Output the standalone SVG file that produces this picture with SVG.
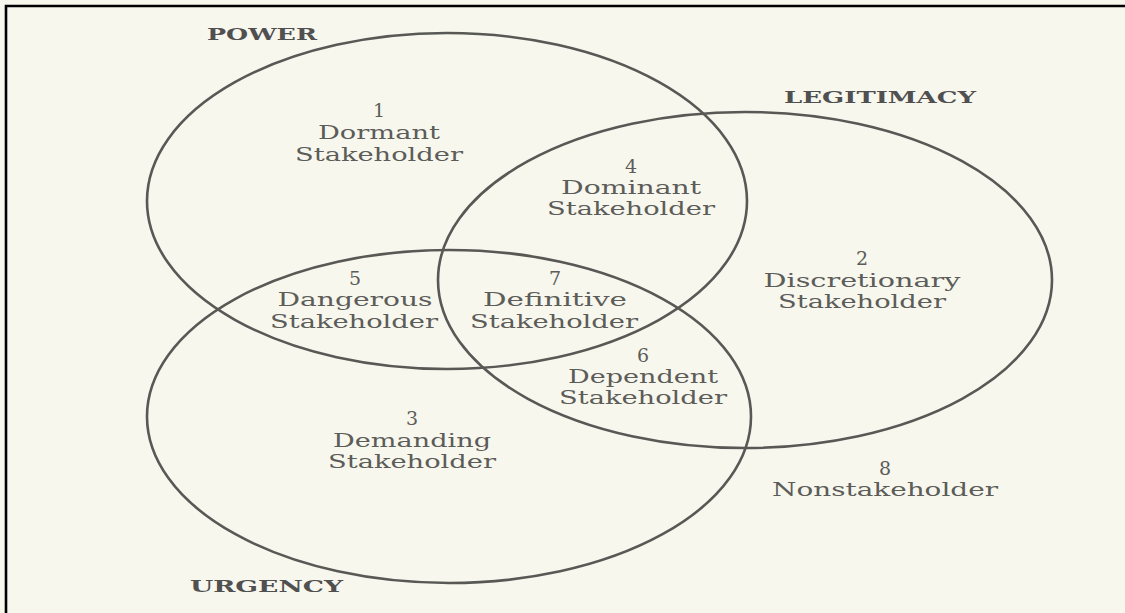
<svg xmlns="http://www.w3.org/2000/svg" width="1125" height="613" viewBox="0 0 1125 613">
<style>
.bg{fill:#f7f7ee}
.c{fill:none;stroke:#585855;stroke-width:2.6}
.h{font-family:"DejaVu Serif","Liberation Serif",serif;font-weight:bold;font-size:17px;fill:#505050}
.t{font-family:"DejaVu Serif","Liberation Serif",serif;font-size:19px;fill:#5c5c58;text-anchor:middle}
.frame{stroke:#000;stroke-width:2.6;fill:none}
</style>
<rect class="bg" x="0" y="0" width="1125" height="613"/>
<path class="frame" d="M6,613 V6 H1125"/>
<g id="circles">
<ellipse id="power" class="c" cx="447" cy="201" rx="300" ry="168"/>
<ellipse id="legitimacy" class="c" cx="745" cy="280" rx="307" ry="168"/>
<ellipse id="urgency" class="c" cx="449" cy="416.5" rx="302" ry="166.5"/>
</g>
<g id="headings">
<text class="h" x="207" y="39.5" textLength="110" lengthAdjust="spacingAndGlyphs">POWER</text>
<text class="h" x="784" y="102.5" textLength="192" lengthAdjust="spacingAndGlyphs">LEGITIMACY</text>
<text class="h" x="190" y="591.5" textLength="153" lengthAdjust="spacingAndGlyphs">URGENCY</text>
</g>
<g id="n1"><text class="t" x="379" y="117">1</text><text class="t" x="379" y="139" textLength="122" lengthAdjust="spacingAndGlyphs">Dormant</text><text class="t" x="379" y="161" textLength="168" lengthAdjust="spacingAndGlyphs">Stakeholder</text></g>
<g id="n4"><text class="t" x="631" y="173">4</text><text class="t" x="631" y="194" textLength="140" lengthAdjust="spacingAndGlyphs">Dominant</text><text class="t" x="631" y="215" textLength="168" lengthAdjust="spacingAndGlyphs">Stakeholder</text></g>
<g id="n2"><text class="t" x="862" y="265">2</text><text class="t" x="862" y="287" textLength="197" lengthAdjust="spacingAndGlyphs">Discretionary</text><text class="t" x="862" y="308" textLength="168" lengthAdjust="spacingAndGlyphs">Stakeholder</text></g>
<g id="n5"><text class="t" x="355" y="285">5</text><text class="t" x="355" y="306" textLength="155" lengthAdjust="spacingAndGlyphs">Dangerous</text><text class="t" x="354" y="328" textLength="168" lengthAdjust="spacingAndGlyphs">Stakeholder</text></g>
<g id="n7"><text class="t" x="555" y="285">7</text><text class="t" x="555" y="306" textLength="144" lengthAdjust="spacingAndGlyphs">Definitive</text><text class="t" x="554" y="328" textLength="168" lengthAdjust="spacingAndGlyphs">Stakeholder</text></g>
<g id="n6"><text class="t" x="643" y="362">6</text><text class="t" x="643" y="383" textLength="150" lengthAdjust="spacingAndGlyphs">Dependent</text><text class="t" x="643" y="404" textLength="168" lengthAdjust="spacingAndGlyphs">Stakeholder</text></g>
<g id="n3"><text class="t" x="412" y="425">3</text><text class="t" x="412" y="447" textLength="158" lengthAdjust="spacingAndGlyphs">Demanding</text><text class="t" x="412" y="468" textLength="168" lengthAdjust="spacingAndGlyphs">Stakeholder</text></g>
<g id="n8"><text class="t" x="885" y="475">8</text><text class="t" x="885" y="496" textLength="226" lengthAdjust="spacingAndGlyphs">Nonstakeholder</text></g>
</svg>
